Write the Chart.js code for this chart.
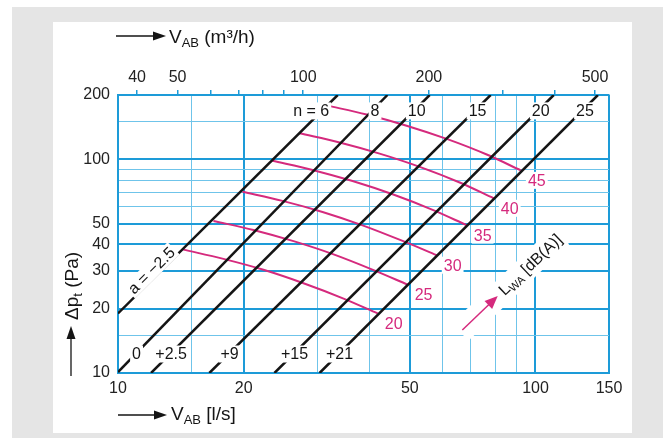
<!DOCTYPE html>
<html><head><meta charset="utf-8">
<script src="https://cdn.jsdelivr.net/npm/chart.js@4.4.1/dist/chart.umd.min.js"></script>
<style>html,body{margin:0;padding:0;background:#fff;overflow:hidden}canvas{display:block}</style>
</head><body>
<canvas id="c" width="663" height="438"></canvas>
<script>
// ---------------- data ----------------
const xTicks = [10,15,20,30,40,50,60,70,80,90,100,150];          // l/s
const xLabeled = [10,20,50,100,150];
const yTicks = [10,15,20,30,40,50,60,70,80,90,100,150,200];       // Pa
const yLabeled = [10,20,30,40,50,100,200];
const topTicks = [40,50,60,70,80,90,100,200,300,400,500];        // m3/h
const topLabeled = [40,50,100,200,500];

const nLabels = ['6','8','10','15','20','25'];
const aLabels = ['a = −2.5','0','+2.5','+9','+15','+21'];
// system lines [V l/s, dp Pa]
const sys1 = [[10,19.0],[33.6,200]];
const sys2 = [[10,10.1],[44.2,200]];
const sys3 = [[12.0,10],[55.8,200]];
const sys4 = [[16.55,10],[78.1,200]];
const sys5 = [[23.7,10],[110.6,200]];
const sys6 = [[30.4,10],[141.1,200]];
// sound power curves L_WA [V l/s, dp Pa]
const lwaLabels = ['20','25','30','35','40','45'];
const lwa20 = [[14.34,37.8],[17.89,34.2],[22.31,30.4],[27.82,26.3],[34.70,22.3],[41.87,19.0]];
const lwa25 = [[16.93,51.5],[21.11,46.7],[26.33,41.4],[32.84,35.9],[40.95,30.3],[49.40,25.9]];
const lwa30 = [[19.87,70.5],[24.77,63.9],[30.90,56.7],[38.53,49.1],[48.06,41.5],[57.98,35.6]];
const lwa35 = [[23.44,98.4],[29.24,89.2],[36.46,79.1],[45.48,68.6],[56.71,58.0],[68.43,49.2]];
const lwa40 = [[27.22,132.3],[33.95,119.9],[42.33,106.3],[52.80,92.2],[65.84,77.9],[79.43,65.7]];
const lwa45 = [[31.59,178.8],[39.40,162.1],[49.13,143.7],[61.28,124.6],[76.42,105.3],[92.21,88.8]];
const nLabelP = 168.5;   // pressure where n labels sit
const aLabelP = 12.27;   // pressure where a labels sit
const aFirstV = 12.35;   // V where "a = −2.5" sits on first line
const lwaArrow = [[66.8,15.9],[81.2,22.9]];
const lwaTitleAt = [96.9,32.3];

// --------------- styles ---------------
const FONT = "'Liberation Sans', Arial, Helvetica, sans-serif";
const MAG = '#d52a7d';
const GRID_THICK = '#1d9bd8';
const GRID_THIN = '#6fc4ea';
const INK = '#151515';

const sysLines = [sys1,sys2,sys3,sys4,sys5,sys6];
const lwaCurves = [lwa20,lwa25,lwa30,lwa35,lwa40,lwa45];
const toPts = a => a.map(p => ({x:p[0], y:p[1]}));

function vOnLineAtP(line, P){
  const a=line[0], b=line[1];
  const t=(Math.log(P)-Math.log(a[1]))/(Math.log(b[1])-Math.log(a[1]));
  return Math.exp(Math.log(a[0])+t*(Math.log(b[0])-Math.log(a[0])));
}
function pOnLineAtV(line, V){
  const a=line[0], b=line[1];
  const t=(Math.log(V)-Math.log(a[0]))/(Math.log(b[0])-Math.log(a[0]));
  return Math.exp(Math.log(a[1])+t*(Math.log(b[1])-Math.log(a[1])));
}
function boxText(ctx, text, x, y, color, align){
  ctx.font = '16px ' + FONT;
  const w = ctx.measureText(text).width;
  const left = align==='right' ? x-w : (align==='left' ? x : x-w/2);
  ctx.fillStyle='#fff';
  ctx.fillRect(left-2, y-8.5, w+4, 17);
  ctx.fillStyle=color; ctx.textAlign='left'; ctx.textBaseline='middle';
  ctx.fillText(text, left, y+1);
}
function runs(ctx, parts, x, y, measureOnly){
  let cx=x;
  for(const p of parts){
    ctx.font = p.size+'px '+FONT;
    if(!measureOnly) ctx.fillText(p.t, cx, y+(p.dy||0));
    cx += ctx.measureText(p.t).width;
  }
  return cx-x;
}
function arrowH(ctx, x0, x1, y){
  ctx.beginPath(); ctx.moveTo(x0,y); ctx.lineTo(x1-11,y); ctx.lineWidth=1.3; ctx.strokeStyle=INK; ctx.stroke();
  ctx.beginPath(); ctx.moveTo(x1,y); ctx.lineTo(x1-13,y-4.5); ctx.lineTo(x1-13,y+4.5); ctx.closePath(); ctx.fillStyle=INK; ctx.fill();
}

const bgPlugin = {
  id:'bg',
  beforeDraw(chart){
    const c=chart.ctx; c.save();
    c.fillStyle='#fff'; c.fillRect(0,0,chart.width,chart.height);
    c.fillStyle='#e5e5e5'; c.fillRect(12,7,chart.width-12,chart.height-7);
    c.fillStyle='#fff'; c.fillRect(53,22,579,411);
    c.restore();
  }
};

const labelPlugin = {
  id:'labels',
  afterDatasetsDraw(chart){
    const ctx=chart.ctx, x=chart.scales.x, y=chart.scales.y;
    ctx.save();
    sysLines.forEach((ln,i)=>{
      const px = x.getPixelForValue(vOnLineAtP(ln,nLabelP))+3;
      const py = y.getPixelForValue(nLabelP);
      if(i===0){
        ctx.font='16px '+FONT;
        const w6=ctx.measureText(nLabels[0]).width;
        boxText(ctx,'n = '+nLabels[0],px+w6/2,py,INK,'right');
      } else {
        boxText(ctx,nLabels[i],px,py,INK,'center');
        const bx = x.getPixelForValue(vOnLineAtP(ln,aLabelP))+1;
        const by = y.getPixelForValue(aLabelP);
        boxText(ctx,aLabels[i],bx,by,INK,'center');
      }
    });
    {
      const ln=sysLines[0];
      const x0=x.getPixelForValue(ln[0][0]), y0=y.getPixelForValue(ln[0][1]);
      const x1=x.getPixelForValue(ln[1][0]), y1=y.getPixelForValue(ln[1][1]);
      const ang=Math.atan2(y1-y0,x1-x0);
      const cx=x.getPixelForValue(aFirstV), cy=y.getPixelForValue(pOnLineAtV(ln,aFirstV));
      const nx=Math.sin(ang)*7, ny=-Math.cos(ang)*7;
      ctx.save(); ctx.translate(cx+nx, cy+ny); ctx.rotate(ang);
      boxText(ctx,aLabels[0],0,0,INK,'center');
      ctx.restore();
    }
    lwaCurves.forEach((c,i)=>{
      const e=c[c.length-1];
      const px=x.getPixelForValue(e[0])+16, py=y.getPixelForValue(e[1])+10;
      boxText(ctx,lwaLabels[i],px,py,MAG,'center');
    });
    {
      const tx=x.getPixelForValue(lwaArrow[0][0]), ty=y.getPixelForValue(lwaArrow[0][1]);
      const hx=x.getPixelForValue(lwaArrow[1][0]), hy=y.getPixelForValue(lwaArrow[1][1]);
      const ang=Math.atan2(hy-ty,hx-tx);
      const len=Math.hypot(hx-tx,hy-ty);
      const lx=x.getPixelForValue(lwaTitleAt[0]), ly=y.getPixelForValue(lwaTitleAt[1]);
      const parts=[{t:'L',size:16},{t:'WA',size:11,dy:3},{t:' [dB(A)]',size:16}];
      const tw=runs(ctx,parts,0,0,true);
      ctx.save(); ctx.translate(tx,ty); ctx.rotate(ang);
      const lend = Math.hypot(lx-tx,ly-ty)+tw/2+2;
      ctx.fillStyle='#fff'; ctx.fillRect(-3,-12,lend+3,24);
      ctx.restore();
      ctx.save(); ctx.translate(tx,ty); ctx.rotate(ang);
      ctx.beginPath(); ctx.moveTo(0,0); ctx.lineTo(len-10,0); ctx.strokeStyle=MAG; ctx.lineWidth=1.5; ctx.stroke();
      ctx.beginPath(); ctx.moveTo(len,0); ctx.lineTo(len-13,-5.5); ctx.lineTo(len-13,5.5); ctx.closePath(); ctx.fillStyle=MAG; ctx.fill();
      ctx.restore();
      ctx.save(); ctx.translate(lx,ly); ctx.rotate(ang);
      ctx.fillStyle=INK; ctx.textAlign='left'; ctx.textBaseline='alphabetic';
      runs(ctx,parts,-tw/2,6,false);
      ctx.restore();
    }
    ctx.restore();
  },
  afterDraw(chart){
    const ctx=chart.ctx; ctx.save();
    ctx.fillStyle=INK; ctx.textAlign='left'; ctx.textBaseline='alphabetic';
    arrowH(ctx,116,166,36);
    ctx.fillStyle=INK;
    runs(ctx,[{t:'V',size:19},{t:'AB',size:13,dy:4},{t:' (m³/h)',size:19}],169,43,false);
    arrowH(ctx,118,167,415);
    ctx.fillStyle=INK;
    runs(ctx,[{t:'V',size:19},{t:'AB',size:13,dy:4},{t:' [l/s]',size:19}],171,420,false);
    ctx.beginPath(); ctx.moveTo(71,376); ctx.lineTo(71,338); ctx.lineWidth=1.3; ctx.strokeStyle=INK; ctx.stroke();
    ctx.beginPath(); ctx.moveTo(71,326); ctx.lineTo(66.5,339); ctx.lineTo(75.5,339); ctx.closePath(); ctx.fill();
    ctx.save(); ctx.translate(77.5,320); ctx.rotate(-Math.PI/2);
    runs(ctx,[{t:'Δp',size:19},{t:'t',size:13,dy:4},{t:' (Pa)',size:19}],0,0,false);
    ctx.restore();
    ctx.restore();
  }
};

const gridW = lab => c => (c.tick && lab.includes(c.tick.value)) ? 2 : 1;
const gridC = lab => c => (c.tick && lab.includes(c.tick.value)) ? GRID_THICK : GRID_THIN;
const tickFont = {size:16, family:FONT};

new Chart(document.getElementById('c'), {
  type:'scatter',
  data:{datasets:[
    ...sysLines.map(l=>({data:toPts(l), showLine:true, borderColor:INK, borderWidth:2.5, pointRadius:0})),
    ...lwaCurves.map(c=>({data:toPts(c), showLine:true, borderColor:MAG, borderWidth:2, pointRadius:0, cubicInterpolationMode:'monotone'}))
  ]},
  options:{
    responsive:false, animation:false, devicePixelRatio:1,
    layout:{padding:{left:0,right:54,top:0,bottom:0}},
    plugins:{legend:{display:false}, tooltip:{enabled:false}},
    scales:{
      x:{type:'logarithmic', position:'bottom', min:10, max:150,
        afterFit:s=>{s.height=65;},
        afterBuildTicks:s=>{s.ticks=xTicks.map(v=>({value:v}));},
        ticks:{autoSkip:false, maxRotation:0, minRotation:0, padding:6, font:tickFont, color:'#222',
          callback:v=>xLabeled.includes(v)?String(v):''},
        grid:{drawTicks:false, color:gridC(xLabeled), lineWidth:gridW(xLabeled)},
        border:{display:true, color:GRID_THICK, width:2}},
      x2:{type:'logarithmic', position:'top', min:36, max:540,
        afterFit:s=>{s.height=95;},
        afterBuildTicks:s=>{s.ticks=topTicks.map(v=>({value:v}));},
        ticks:{autoSkip:false, maxRotation:0, minRotation:0, padding:3, font:tickFont, color:'#222',
          callback:v=>topLabeled.includes(v)?String(v):''},
        grid:{drawOnChartArea:false, drawTicks:true, tickLength:5, color:GRID_THICK, lineWidth:1.5},
        border:{display:true, color:GRID_THICK, width:2}},
      y:{type:'logarithmic', position:'left', min:10, max:200,
        afterFit:s=>{s.width=118;},
        afterBuildTicks:s=>{s.ticks=yTicks.map(v=>({value:v}));},
        ticks:{autoSkip:false, padding:8, font:tickFont, color:'#222',
          callback:v=>yLabeled.includes(v)?String(v):''},
        grid:{drawTicks:false, color:gridC(yLabeled), lineWidth:gridW(yLabeled)},
        border:{display:true, color:GRID_THICK, width:2}}
    }
  },
  plugins:[bgPlugin,labelPlugin]
});
</script>
</body></html>
